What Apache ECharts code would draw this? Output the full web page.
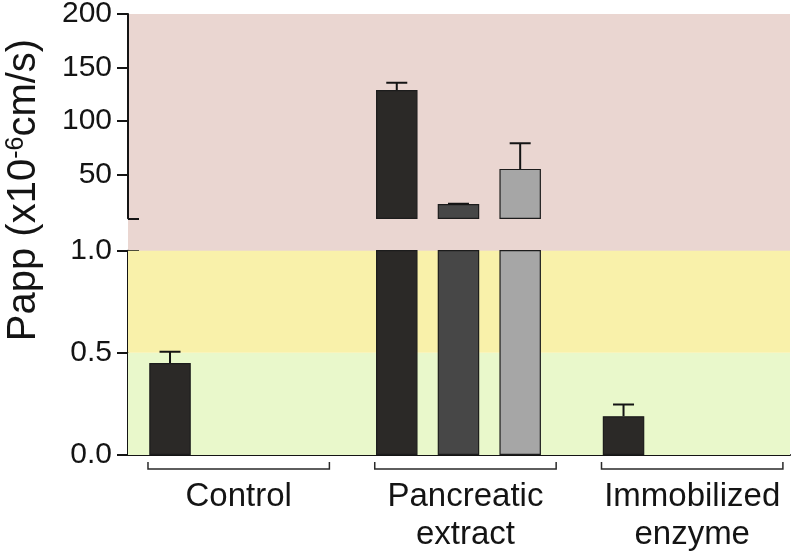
<!DOCTYPE html>
<html><head><meta charset="utf-8">
<script src="https://cdn.jsdelivr.net/npm/echarts@6/dist/echarts.min.js"></script>
<style>html,body{margin:0;padding:0;background:#fff}#c{width:793px;height:554px}</style>
</head><body><div id="c"></div>
<script>
// ---------- data ----------
const groups = ['Control', 'Pancreatic\nextract', 'Immobilized\nenzyme'];
const slot1Values = [0.45, 129, 0.19];
const slot1Errors = [0.055, 6.8, 0.057];
const slot2Values = [null, 22.3, null];
const slot2Errors = [null, 0.3, null];
const slot3Values = [null, 55.2, null];
const slot3Errors = [null, 24, null];
const upperTicks = [50, 100, 150, 200];
const lowerTicks = [0, 0.5, 1.0];
const bandRanges = [[0, 0.5], [0.5, 1.0]];

// ---------- styling / layout ----------
const FONT = "'Liberation Sans', Arial, Helvetica, sans-serif";
const INK = '#141414';
const PINK = '#EAD6D1';
const bandColors = ['#E9F8CB', '#F9F1AA'];
const slotColors = ['#2B2927', '#474747', '#A6A6A6'];
const slotValues = [slot1Values, slot2Values, slot3Values];
const slotErrors = [slot1Errors, slot2Errors, slot3Errors];
const GROUP_STEP = 3.675;
const X_MIN = -0.681, X_MAX = 10.048;
const UPPER_MIN = 9, UPPER_MAX = 200, LOWER_MAX = 1.0;
const BRACKET_FROM = -0.357, BRACKET_TO = 0.583;

function slotX(gi, si) { return gi * GROUP_STEP + si; }

function barItems(keep) {
  const out = [];
  groups.forEach((g, gi) => slotValues.forEach((vals, si) => {
    const v = vals[gi];
    if (v == null || !keep(v)) return;
    out.push({ value: [slotX(gi, si), v], itemStyle: { color: slotColors[si] } });
  }));
  return out;
}
function errItems(keep) {
  const out = [];
  groups.forEach((g, gi) => slotValues.forEach((vals, si) => {
    const v = vals[gi], e = slotErrors[si][gi];
    if (v == null || e == null || !keep(v, e)) return;
    out.push([slotX(gi, si), v, e]);
  }));
  return out;
}

function errRender(params, api) {
  const x = api.value(0), y = api.value(1), e = api.value(2);
  const p0 = api.coord([x, y]);
  const p1 = api.coord([x, y + e]);
  const hw = 10.5;
  return { type: 'group', children: [
    { type: 'line', shape: { x1: p0[0], y1: p0[1], x2: p1[0], y2: p1[1] }, style: { stroke: INK, lineWidth: 2 } },
    { type: 'line', shape: { x1: p1[0] - hw, y1: p1[1], x2: p1[0] + hw, y2: p1[1] }, style: { stroke: INK, lineWidth: 2 } }
  ]};
}

const lineStyle = { color: INK, width: 2 };
const labelStyle = { fontSize: 30, color: INK, fontFamily: FONT, margin: 16 };

const option = {
  animation: false,
  backgroundColor: '#fff',
  grid: [
    { left: 128, right: 3, top: 14, height: 204.3, show: false, outerBoundsMode: 'none' },
    { left: 128, right: 3, top: 14, height: 237.5, show: true, backgroundColor: PINK, borderWidth: 0, outerBoundsMode: 'none' },
    { left: 128, right: 3, top: 250.7, height: 204.3, show: false, outerBoundsMode: 'none' }
  ],
  xAxis: [
    { gridIndex: 0, type: 'value', min: X_MIN, max: X_MAX, show: false },
    { gridIndex: 1, type: 'value', min: X_MIN, max: X_MAX, show: false },
    { gridIndex: 2, type: 'value', min: X_MIN, max: X_MAX,
      axisLine: { show: true, onZero: false, lineStyle: lineStyle },
      axisTick: { show: false }, axisLabel: { show: false }, splitLine: { show: false } }
  ],
  yAxis: [
    { gridIndex: 0, type: 'value', position: 'left', min: UPPER_MIN, max: UPPER_MAX,
      axisLine: { show: true, onZero: false, lineStyle: lineStyle },
      axisTick: { show: true, length: 11, lineStyle: lineStyle, customValues: upperTicks },
      axisLabel: Object.assign({ customValues: upperTicks }, labelStyle),
      splitLine: { show: false } },
    { gridIndex: 0, type: 'value', position: 'left', min: UPPER_MIN, max: UPPER_MAX,
      axisLine: { show: false, onZero: false },
      axisTick: { show: true, inside: true, length: 11, lineStyle: lineStyle, customValues: [UPPER_MIN] },
      axisLabel: { show: false }, splitLine: { show: false } },
    { gridIndex: 1, type: 'value', min: 0, max: 1, show: false },
    { gridIndex: 2, type: 'value', position: 'left', min: 0, max: LOWER_MAX,
      axisLine: { show: true, onZero: false, lineStyle: lineStyle },
      axisTick: { show: true, length: 11, lineStyle: lineStyle, customValues: lowerTicks },
      axisLabel: Object.assign({ customValues: lowerTicks, formatter: v => v.toFixed(1) }, labelStyle),
      splitLine: { show: false } },
    { gridIndex: 2, type: 'value', position: 'left', min: 0, max: LOWER_MAX,
      axisLine: { show: false, onZero: false },
      axisTick: { show: true, inside: true, length: 11, lineStyle: lineStyle, customValues: [LOWER_MAX] },
      axisLabel: { show: false }, splitLine: { show: false } }
  ],
  series: [
    { type: 'line', xAxisIndex: 2, yAxisIndex: 3, data: [], z: 1, silent: true,
      markArea: { silent: true, data: bandRanges.map((b, i) => [
        { yAxis: b[0], itemStyle: { color: bandColors[i], opacity: 1, borderWidth: 0 } },
        { yAxis: b[1] }
      ]) } },
    { type: 'bar', xAxisIndex: 0, yAxisIndex: 0, barWidth: 41.5, clip: true, z: 2,
      itemStyle: { borderColor: '#1c1c1c', borderWidth: 1.2 },
      data: barItems(v => v > UPPER_MIN) },
    { type: 'bar', xAxisIndex: 2, yAxisIndex: 3, barWidth: 41.5, clip: true, z: 2,
      itemStyle: { borderColor: '#1c1c1c', borderWidth: 1.2 },
      data: barItems(v => true) },
    { type: 'custom', xAxisIndex: 0, yAxisIndex: 0, clip: true, z: 3,
      renderItem: errRender, data: errItems((v, e) => v > UPPER_MIN) },
    { type: 'custom', xAxisIndex: 2, yAxisIndex: 3, clip: true, z: 3,
      renderItem: errRender, data: errItems((v, e) => v + e <= LOWER_MAX) },
    { type: 'custom', xAxisIndex: 2, yAxisIndex: 3, clip: false, z: 5, silent: true,
      data: groups.map((g, i) => [i]),
      renderItem: function (params, api) {
        const gi = api.value(0);
        const base = gi * GROUP_STEP;
        const pL = api.coord([base + BRACKET_FROM, 0]);
        const pR = api.coord([base + 2 + BRACKET_TO, 0]);
        const y = pL[1] + 14, h = 7;
        return { type: 'group', children: [
          { type: 'polyline', shape: { points: [[pL[0], y - h], [pL[0], y], [pR[0], y], [pR[0], y - h]] },
            style: { stroke: '#2a2a2a', lineWidth: 1.5, fill: null } },
          { type: 'text', x: (pL[0] + pR[0]) / 2, y: y + 9,
            style: { text: groups[gi], fontSize: 33, fontFamily: FONT, lineHeight: 38, fill: INK,
                     align: 'center', verticalAlign: 'top' } }
        ]};
      } }
  ],
  graphic: [
    { type: 'text', x: 24, y: 190, rotation: Math.PI / 2, silent: true,
      style: {
        text: '{a|Papp (x10}{s|-6}{a|cm/s)}',
        align: 'center', verticalAlign: 'middle',
        rich: {
          a: { fontSize: 40, fontFamily: FONT, fill: INK },
          s: { fontSize: 25, fontFamily: FONT, fill: INK, verticalAlign: 'top' }
        }
      } }
  ]
};
const chart = echarts.init(document.getElementById('c'));
chart.setOption(option);
</script>
</body></html>
